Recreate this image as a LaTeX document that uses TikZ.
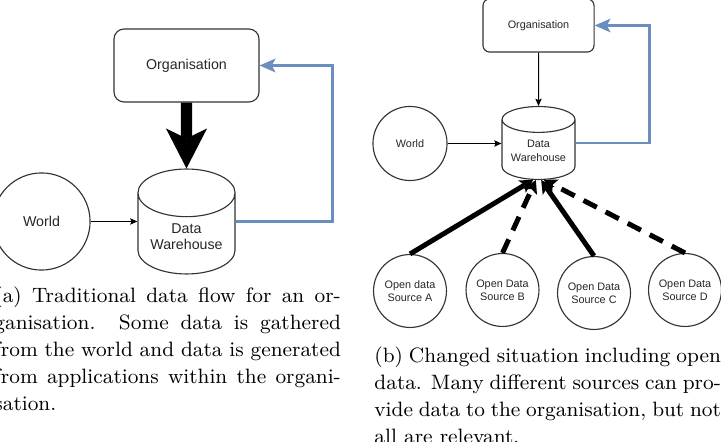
\documentclass[tikz,border=0pt]{standalone}
\usepackage{fontspec}
\newfontfamily\drawfont{Liberation Sans}
\usepackage{tikz}
\usetikzlibrary{arrows.meta,shapes.geometric}

\newcommand{\unitpx}{0.4428pt}
\definecolor{flowblue}{HTML}{6C8EBF}
\definecolor{strokegray}{HTML}{333333}

\tikzset{
  panela/.style={font=\drawfont\fontsize{6.3}{7.5}\selectfont, text=black!85},
  panelb/.style={font=\drawfont\fontsize{4.8}{5.8}\selectfont, text=black!85},
  shapeline/.style={draw=strokegray, line width=0.5pt, align=center, inner sep=0pt},
  orgbox/.style={rectangle, shapeline},
  store/.style={cylinder, shape border rotate=90, shapeline},
  source/.style={circle, shapeline},
  thinflow/.style={draw=black, line width=0.45pt, -{Stealth[length=3.2pt, width=2.8pt, inset=0.6pt]}},
  bigflow/.style={draw=black, line width=4.9pt, -{Stealth[length=17.7pt, width=18.2pt, inset=4.4pt, line width=0pt]}},
  openflow/.style={draw=black, line width=2.2pt, -{Stealth[length=5.8pt, width=6.4pt, inset=1.3pt, line width=0pt]}},
  maybeflow/.style={openflow, dash pattern=on 6.6pt off 4.4pt},
  backflow/.style={draw=flowblue, line width=#1, -{Stealth[length=7pt, width=6pt, inset=1.6pt]}},
  caption/.style={text width=153.4pt, align=justify, inner sep=0pt, anchor=north west,
    font=\fontsize{9.2}{12}\selectfont}
}

\begin{document}
\begin{tikzpicture}[x=\unitpx, y=-\unitpx]
\useasboundingbox (0,0) rectangle (721,442);
\clip (0,0) rectangle (721,442);
% (a) traditional data flow
\node[orgbox, panela, minimum width=64.2pt, minimum height=32.3pt, rounded corners=4.4pt] (orgA) at (186.5,65.5) {Organisation};
\node[store, panela, minimum width=43pt, minimum height=43pt, aspect=0.66, anchor=shape center] (dwA) at (186.5,221.5) {\\[-0.5pt]Data\\Warehouse};
\node[source, panela, minimum size=43pt] (worldA) at (41.5,221.5) {World};
\draw[bigflow] (orgA.south) -- (dwA.north);
\draw[thinflow] (worldA.east) -- (worldA.east -| dwA.west);
\draw[backflow=1.3pt] (dwA.shape center -| dwA.east) -- ++(97,0) |- (orgA.east);
\node[caption] (capA) at (-6,286.4) {(a) Traditional data flow for an or-\linebreak ganisation. Some data is gathered\linebreak from the world and data is generated\linebreak from applications within the organi-\linebreak sation.};

% (b) with open data sources
\node[orgbox, panelb, minimum width=49.2pt, minimum height=23.5pt, rounded corners=3pt] (orgB) at (538.5,25.5) {Organisation};
\node[store, panelb, minimum width=32.3pt, minimum height=32.3pt, aspect=0.47, anchor=shape center] (dwB) at (538.5,143) {\\[-1.5pt]Data\\Warehouse};
\node[source, panelb, minimum size=32.8pt] (worldB) at (410,143.5) {World};
\node[source, panelb, minimum size=32.3pt] (srcA) at (410,291) {Open data\\Source A};
\node[source, panelb, minimum size=32.3pt] (srcB) at (502.5,290) {Open Data\\Source B};
\node[source, panelb, minimum size=32.3pt] (srcC) at (594,293) {Open Data\\Source C};
\node[source, panelb, minimum size=32.3pt] (srcD) at (685,290) {Open Data\\Source D};
\draw[thinflow] (orgB.south) -- (dwB.north);
\draw[thinflow] (worldB.east) -- (worldB.east -| dwB.west);
\draw[backflow=1.1pt] (dwB.shape center -| dwB.east) -- ++(74,0) |- (orgB.east);
\path
(srcA.north) edge[openflow] (dwB.-100)
(srcB.north) edge[maybeflow] (dwB.-95)
(srcC.north) edge[openflow] (dwB.-85)
(srcD.north) edge[maybeflow] (dwB.-80);
\node[caption] (capB) at (374,346.4) {(b) Changed situation including open\linebreak data. Many different sources can pro-\linebreak vide data to the organisation, but not\linebreak all are relevant.};
\end{tikzpicture}
\end{document}
